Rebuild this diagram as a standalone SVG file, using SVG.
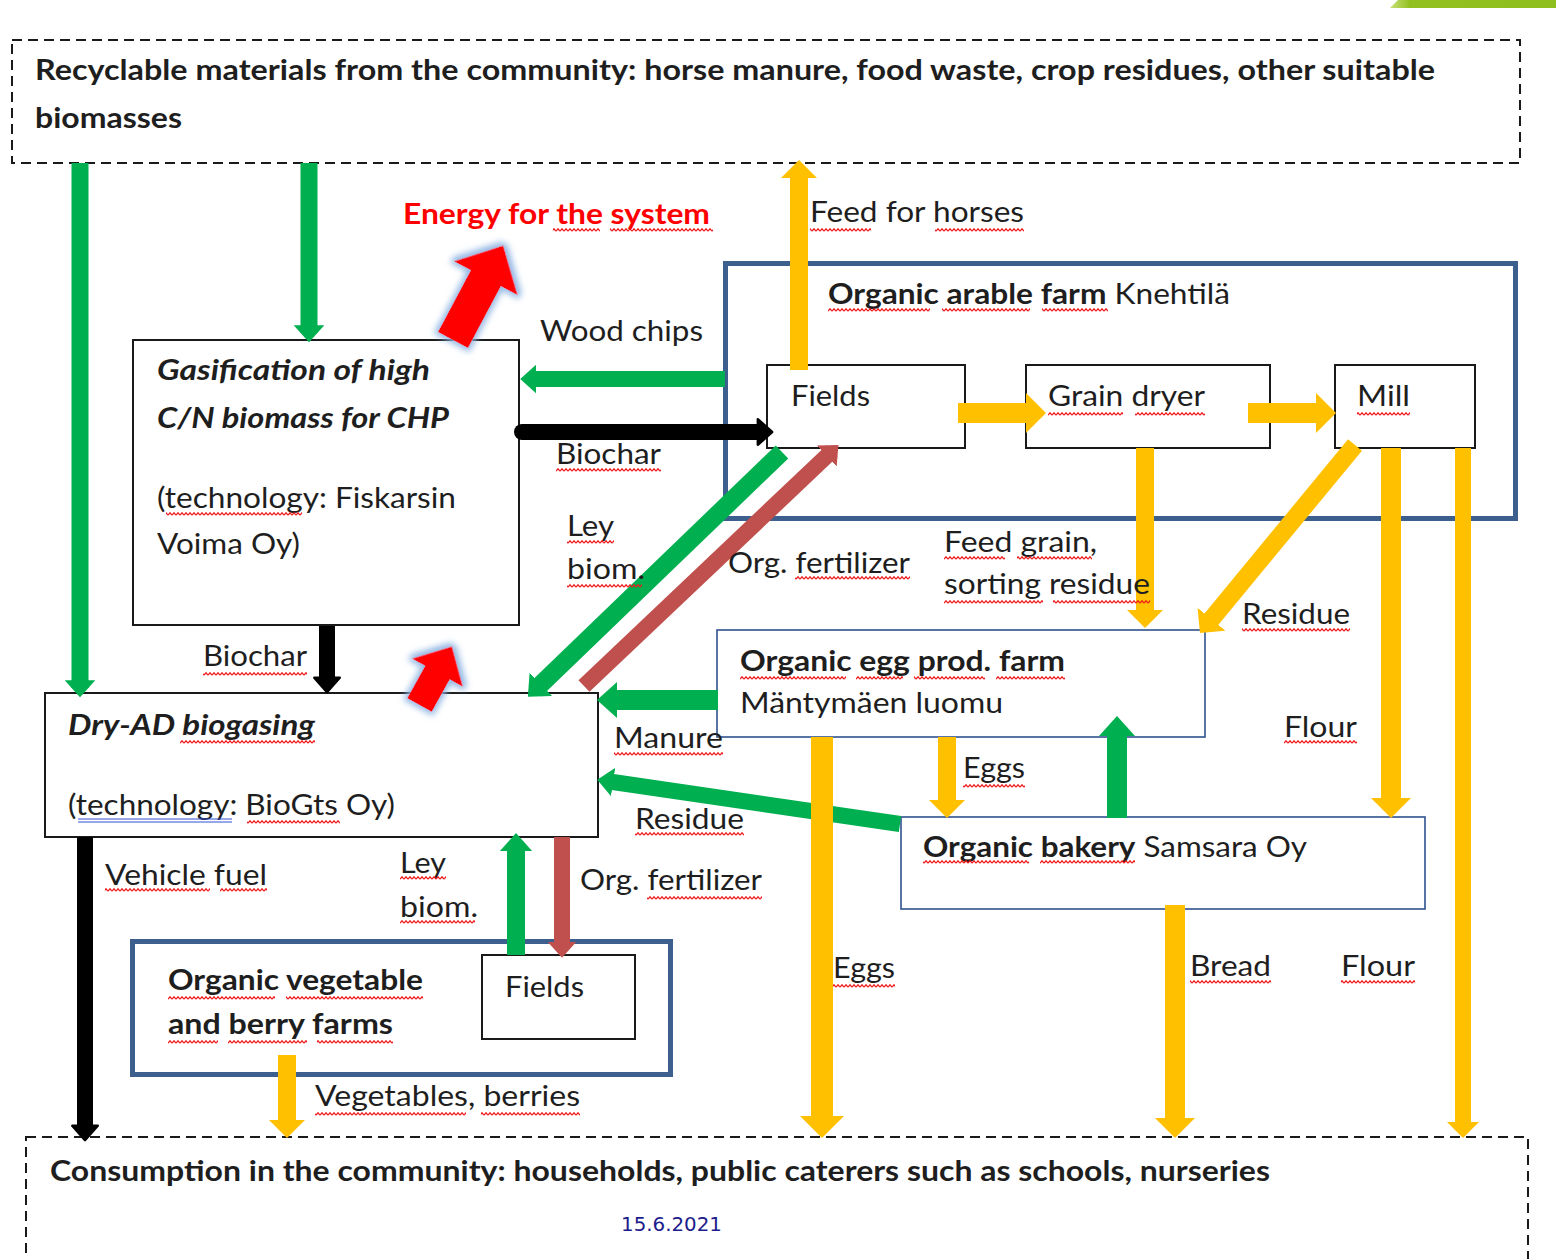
<svg xmlns="http://www.w3.org/2000/svg" width="1556" height="1259" viewBox="0 0 1556 1259">
<defs>
<style>
.t{font-family:Lato,"Open Sans","Liberation Sans",sans-serif;font-size:28px;fill:#1e1e1e}
.b{font-weight:bold}
.bi{font-weight:bold;font-style:italic}
.box{fill:#fff;stroke:#1a1a1a;stroke-width:2}
.frame{fill:none;stroke:#3c5f8e;stroke-width:5}
.thin{fill:#fff;stroke:#2f528f;stroke-width:1.6}
.dash{fill:none;stroke:#1a1a1a;stroke-width:2;stroke-dasharray:10 6}
.wv{fill:url(#wavy)}
.g{stroke:#00b050;fill:none;marker-end:url(#mg)}
.y{stroke:#ffc000;fill:none;marker-end:url(#my)}
.r{stroke:#c0504d;fill:none;marker-end:url(#mr)}
.k{stroke:#000;fill:none;marker-end:url(#mk)}
</style>
<pattern id="wavy" patternUnits="userSpaceOnUse" width="4" height="4"><path d="M0,3.2 L2,0.8 L4,3.2" fill="none" stroke="#f01818" stroke-width="1.3"/></pattern>
<marker id="mg" markerUnits="strokeWidth" viewBox="0 -1 1 2" refX="0.45" refY="0" markerWidth="1" markerHeight="2" orient="auto"><path d="M0,-0.9 L1,0 L0,0.9 Z" fill="#00b050"/></marker>
<marker id="mr" markerUnits="strokeWidth" viewBox="0 -1 1 2" refX="0.45" refY="0" markerWidth="1" markerHeight="2" orient="auto"><path d="M0,-0.9 L1,0 L0,0.9 Z" fill="#c0504d"/></marker>
<marker id="my" markerUnits="strokeWidth" viewBox="0 -1 1 2" refX="0.5" refY="0" markerWidth="1" markerHeight="2" orient="auto"><path d="M0,-1 L1,0 L0,1 Z" fill="#ffc000"/></marker>
<marker id="mk" markerUnits="strokeWidth" viewBox="-0.2 -1 1.3 2" refX="0.2" refY="0" markerWidth="1.3" markerHeight="2" orient="auto"><path d="M0,-0.8 L0.9,0 L0,0.8 Z" fill="#000" stroke="#000" stroke-width="0.15" stroke-linejoin="round"/></marker>
<filter id="glow" x="-40%" y="-40%" width="180%" height="180%">
<feMorphology in="SourceAlpha" operator="dilate" radius="3" result="d"/>
<feGaussianBlur in="d" stdDeviation="3" result="bl"/>
<feFlood flood-color="#8db3e2" flood-opacity="0.95"/>
<feComposite in2="bl" operator="in" result="gl"/>
<feMerge><feMergeNode in="gl"/><feMergeNode in="SourceGraphic"/></feMerge>
</filter>
<linearGradient id="bar" x1="0" y1="0" x2="1" y2="0"><stop offset="0" stop-color="#c8e07a"/><stop offset="0.12" stop-color="#92c020"/><stop offset="1" stop-color="#8dbf1e"/></linearGradient>
</defs>
<rect width="1556" height="1259" fill="#fff"/>
<polygon points="1390,8 1398,0 1556,0 1556,8" fill="url(#bar)"/>

<g id="source">
<rect class="dash" x="12" y="40" width="1508" height="123"/>
<text class="t b" x="35" y="80" textLength="1400" lengthAdjust="spacingAndGlyphs">Recyclable materials from the community: horse manure, food waste, crop residues, other suitable</text>
<text class="t b" x="35" y="128" textLength="147" lengthAdjust="spacingAndGlyphs">biomasses</text>
</g>

<g id="consumption">
<rect class="dash" x="26" y="1137" width="1502" height="140"/>
<text class="t b" x="50" y="1181" textLength="1220" lengthAdjust="spacingAndGlyphs">Consumption in the community: households, public caterers such as schools, nurseries</text>
</g>

<g id="gasification">
<rect class="box" x="133" y="340" width="386" height="285"/>
<text class="t bi" x="157" y="380" textLength="273" lengthAdjust="spacingAndGlyphs">Gasification of high</text>
<text class="t bi" x="157" y="428" textLength="292" lengthAdjust="spacingAndGlyphs">C/N biomass for CHP</text>
<text class="t" x="157" y="508" textLength="299" lengthAdjust="spacingAndGlyphs">(technology: Fiskarsin</text>
<text class="t" x="157" y="554" textLength="143" lengthAdjust="spacingAndGlyphs">Voima Oy)</text>
<rect class="wv" x="166" y="512" width="136" height="4"/>
</g>

<g id="arable-farm">
<rect class="frame" x="725.5" y="263.5" width="790" height="255"/>
<text class="t" x="828" y="304" textLength="402" lengthAdjust="spacingAndGlyphs"><tspan class="b">Organic arable farm</tspan> Knehtilä</text>
<rect class="wv" x="828" y="308" width="102" height="4"/>
<rect class="wv" x="942" y="308" width="88" height="4"/>
<rect class="wv" x="1042" y="308" width="66" height="4"/>
</g>

<g id="fields-arable">
<rect class="box" x="767" y="365" width="198" height="83"/>
<text class="t" x="791" y="406" textLength="79" lengthAdjust="spacingAndGlyphs">Fields</text>
</g>
<g id="grain-dryer">
<rect class="box" x="1026" y="365" width="244" height="83"/>
<text class="t" x="1048" y="406" textLength="157" lengthAdjust="spacingAndGlyphs">Grain dryer</text>
<rect class="wv" x="1048" y="412" width="75" height="4"/>
<rect class="wv" x="1135" y="412" width="70" height="4"/>
</g>
<g id="mill">
<rect class="box" x="1335" y="365" width="140" height="83"/>
<text class="t" x="1357" y="406" textLength="53" lengthAdjust="spacingAndGlyphs">Mill</text>
<rect class="wv" x="1357" y="412" width="53" height="4"/>
</g>

<g id="egg-farm">
<rect class="thin" x="717" y="630" width="488" height="107"/>
<text class="t b" x="740" y="671" textLength="325" lengthAdjust="spacingAndGlyphs">Organic egg prod. farm</text>
<text class="t" x="740" y="713" textLength="263" lengthAdjust="spacingAndGlyphs">Mäntymäen luomu</text>
<rect class="wv" x="740" y="676" width="106" height="4"/>
<rect class="wv" x="856" y="676" width="47" height="4"/>
<rect class="wv" x="914" y="676" width="71" height="4"/>
<rect class="wv" x="996" y="676" width="69" height="4"/>
</g>

<g id="dry-ad">
<rect class="box" x="45" y="693" width="553" height="144"/>
<text class="t bi" x="68" y="735" textLength="247" lengthAdjust="spacingAndGlyphs">Dry-AD biogasing</text>
<text class="t" x="68" y="815" textLength="327" lengthAdjust="spacingAndGlyphs">(technology: BioGts Oy)</text>
<rect class="wv" x="180" y="740" width="135" height="4"/>
<line x1="78" y1="819" x2="232" y2="819" stroke="#3050d0" stroke-width="1"/>
<line x1="78" y1="822" x2="232" y2="822" stroke="#3050d0" stroke-width="1"/>
<rect class="wv" x="247" y="820" width="93" height="4"/>
</g>

<g id="bakery">
<rect class="thin" x="901" y="817" width="524" height="92"/>
<text class="t" x="923" y="857" textLength="384" lengthAdjust="spacingAndGlyphs"><tspan class="b">Organic bakery</tspan> Samsara Oy</text>
<rect class="wv" x="923" y="860" width="106" height="4"/>
<rect class="wv" x="1040" y="860" width="95" height="4"/>
</g>

<g id="veg-farms">
<rect class="frame" x="132.5" y="941.5" width="538" height="133"/>
<text class="t b" x="168" y="990" textLength="255" lengthAdjust="spacingAndGlyphs">Organic vegetable</text>
<text class="t b" x="168" y="1034" textLength="225" lengthAdjust="spacingAndGlyphs">and berry farms</text>
<rect class="wv" x="168" y="996" width="107" height="4"/>
<rect class="wv" x="286" y="996" width="137" height="4"/>
<rect class="wv" x="168" y="1040" width="50" height="4"/>
<rect class="wv" x="228" y="1040" width="79" height="4"/>
<rect class="wv" x="317" y="1040" width="76" height="4"/>
</g>
<g id="fields-veg">
<rect class="box" x="482" y="955" width="153" height="84"/>
<text class="t" x="505" y="997" textLength="79" lengthAdjust="spacingAndGlyphs">Fields</text>
</g>

<g id="energy">
<text class="t b" x="403" y="224" style="fill:#ff0000" textLength="307" lengthAdjust="spacingAndGlyphs">Energy for the system</text>
<rect class="wv" x="553" y="228" width="47" height="4"/>
<rect class="wv" x="610" y="228" width="103" height="4"/>
<polygon filter="url(#glow)" transform="translate(453,340) rotate(-62)" points="0,-17 70,-17 70,-36 107,0 70,36 70,17 0,17" fill="#ff0000"/>
<polygon filter="url(#glow)" transform="translate(419.5,705) rotate(-61)" points="0,-14 37,-14 37,-29 67,0 37,29 37,14 0,14" fill="#ff0000"/>
</g>

<g id="connectors">
<line class="g" x1="80" y1="163" x2="80" y2="688" stroke-width="17"/>
<line class="g" x1="309" y1="163" x2="309" y2="333" stroke-width="17"/>
<line class="g" x1="725" y1="379" x2="529" y2="379" stroke-width="16"/>
<line class="k" x1="522" y1="432" x2="761" y2="432" stroke-width="16" stroke-linecap="round"/>
<line class="y" x1="799" y1="370" x2="799" y2="169" stroke-width="18"/>
<line class="y" x1="958" y1="413" x2="1036" y2="413" stroke-width="20"/>
<line class="y" x1="1248" y1="413" x2="1326" y2="413" stroke-width="20"/>
<line class="y" x1="1145" y1="448" x2="1145" y2="619" stroke-width="18"/>
<line class="y" x1="1355" y1="445" x2="1205.7" y2="626.1" stroke-width="18"/>
<line class="y" x1="1391" y1="448" x2="1391" y2="808" stroke-width="20"/>
<line class="y" x1="1463" y1="448" x2="1463" y2="1130" stroke-width="16"/>
<line class="g" x1="782" y1="452" x2="535" y2="690" stroke-width="18"/>
<line class="r" x1="584" y1="686" x2="832" y2="451" stroke-width="16"/>
<line class="k" x1="327" y1="626" x2="327" y2="681" stroke-width="16"/>
<line class="g" x1="718" y1="700" x2="608" y2="700" stroke-width="20"/>
<line class="g" x1="900" y1="824" x2="606" y2="781" stroke-width="16"/>
<line class="y" x1="947" y1="737" x2="947" y2="809" stroke-width="18"/>
<line class="g" x1="1117" y1="818" x2="1117" y2="727" stroke-width="20"/>
<line class="y" x1="822" y1="737" x2="822" y2="1127" stroke-width="22"/>
<line class="y" x1="1175" y1="905" x2="1175" y2="1128" stroke-width="20"/>
<line class="k" x1="85" y1="837" x2="85" y2="1129" stroke-width="16"/>
<line class="g" x1="516" y1="955" x2="516" y2="843" stroke-width="18"/>
<line class="r" x1="562" y1="837" x2="562" y2="949" stroke-width="16"/>
<line class="y" x1="287" y1="1055" x2="287" y2="1129" stroke-width="18"/>
</g>

<g id="labels">
<text class="t" x="810" y="222" textLength="214" lengthAdjust="spacingAndGlyphs">Feed for horses</text>
<rect class="wv" x="810" y="228" width="61" height="4"/>
<rect class="wv" x="935" y="228" width="89" height="4"/>
<text class="t" x="540" y="341" textLength="163" lengthAdjust="spacingAndGlyphs">Wood chips</text>
<text class="t" x="556" y="464" textLength="105" lengthAdjust="spacingAndGlyphs">Biochar</text>
<rect class="wv" x="556" y="468" width="105" height="4"/>
<text class="t" x="567" y="536" textLength="47" lengthAdjust="spacingAndGlyphs">Ley</text>
<text class="t" x="567" y="579" textLength="78" lengthAdjust="spacingAndGlyphs">biom.</text>
<rect class="wv" x="567" y="540" width="47" height="4"/>
<rect class="wv" x="567" y="584" width="75" height="4"/>
<text class="t" x="728" y="573" textLength="182" lengthAdjust="spacingAndGlyphs">Org. fertilizer</text>
<rect class="wv" x="795" y="576" width="115" height="4"/>
<text class="t" x="944" y="552" textLength="153" lengthAdjust="spacingAndGlyphs">Feed grain,</text>
<rect class="wv" x="944" y="556" width="61" height="4"/>
<rect class="wv" x="1017" y="556" width="75" height="4"/>
<text class="t" x="944" y="594" textLength="206" lengthAdjust="spacingAndGlyphs">sorting residue</text>
<rect class="wv" x="944" y="600" width="99" height="4"/>
<rect class="wv" x="1053" y="600" width="97" height="4"/>
<text class="t" x="1242" y="624" textLength="108" lengthAdjust="spacingAndGlyphs">Residue</text>
<rect class="wv" x="1242" y="628" width="108" height="4"/>
<text class="t" x="203" y="666" textLength="104" lengthAdjust="spacingAndGlyphs">Biochar</text>
<rect class="wv" x="203" y="672" width="104" height="4"/>
<text class="t" x="614" y="748" textLength="109" lengthAdjust="spacingAndGlyphs">Manure</text>
<rect class="wv" x="614" y="752" width="109" height="4"/>
<text class="t" x="1284" y="737" textLength="73" lengthAdjust="spacingAndGlyphs">Flour</text>
<rect class="wv" x="1284" y="740" width="73" height="4"/>
<text class="t" x="963" y="778" textLength="62" lengthAdjust="spacingAndGlyphs">Eggs</text>
<rect class="wv" x="963" y="784" width="62" height="4"/>
<text class="t" x="635" y="829" textLength="109" lengthAdjust="spacingAndGlyphs">Residue</text>
<rect class="wv" x="635" y="832" width="109" height="4"/>
<text class="t" x="105" y="885" textLength="162" lengthAdjust="spacingAndGlyphs">Vehicle fuel</text>
<rect class="wv" x="105" y="888" width="105" height="4"/>
<rect class="wv" x="220" y="888" width="47" height="4"/>
<text class="t" x="400" y="873" textLength="46" lengthAdjust="spacingAndGlyphs">Ley</text>
<text class="t" x="400" y="917" textLength="78" lengthAdjust="spacingAndGlyphs">biom.</text>
<rect class="wv" x="400" y="876" width="46" height="4"/>
<rect class="wv" x="400" y="920" width="75" height="4"/>
<text class="t" x="580" y="890" textLength="182" lengthAdjust="spacingAndGlyphs">Org. fertilizer</text>
<rect class="wv" x="647" y="896" width="115" height="4"/>
<text class="t" x="833" y="978" textLength="62" lengthAdjust="spacingAndGlyphs">Eggs</text>
<rect class="wv" x="833" y="984" width="62" height="4"/>
<text class="t" x="1190" y="976" textLength="81" lengthAdjust="spacingAndGlyphs">Bread</text>
<rect class="wv" x="1190" y="980" width="81" height="4"/>
<text class="t" x="1341" y="976" textLength="74" lengthAdjust="spacingAndGlyphs">Flour</text>
<rect class="wv" x="1341" y="980" width="74" height="4"/>
<text class="t" x="315" y="1106" textLength="265" lengthAdjust="spacingAndGlyphs">Vegetables, berries</text>
<rect class="wv" x="315" y="1112" width="151" height="4"/>
<rect class="wv" x="481" y="1112" width="99" height="4"/>
<text x="621" y="1231" font-family="'DejaVu Sans',sans-serif" font-size="20" fill="#1c1c8c" textLength="101" lengthAdjust="spacingAndGlyphs">15.6.2021</text>
</g>
</svg>
